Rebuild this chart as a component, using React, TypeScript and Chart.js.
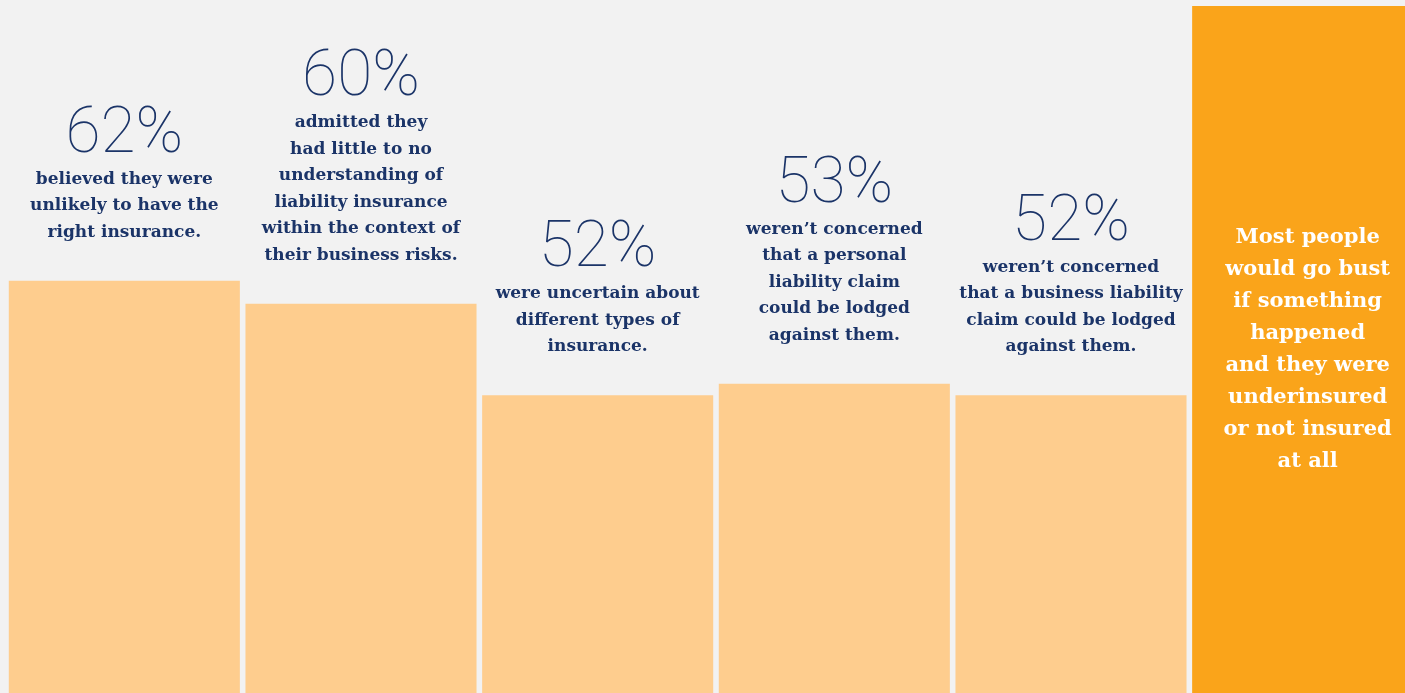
import React, { useEffect, useRef } from "react";
import { Chart, registerables } from "chart.js";

Chart.register(...registerables);

const categories = ["Right insurance", "Liability understanding", "Insurance types", "Personal liability", "Business liability", "Summary"];
const values = [62, 60, 52, 53, 52, 86];
const percentLabels = ["62%", "60%", "52%", "53%", "52%", ""];
const descriptions: string[][] = [
  ["believed they were", "unlikely to have the", "right insurance."],
  ["admitted they", "had little to no", "understanding of", "liability insurance", "within the context of", "their business risks."],
  ["were uncertain about", "different types of", "insurance."],
  ["weren\u2019t concerned", "that a personal", "liability claim", "could be lodged", "against them."],
  ["weren\u2019t concerned", "that a business liability", "claim could be lodged", "against them."],
  ["Most people", "would go bust", "if something", "happened", "and they were", "underinsured", "or not insured", "at all"],
];
const barColors = ["#fecd8e", "#fecd8e", "#fecd8e", "#fecd8e", "#fecd8e", "#faa41a"];

const NAVY = "#1b3468";
const DESC_FONT = "bold 17px 'DejaVu Serif', serif";
const PCT_FONT = "100 64px Roboto, Lato, sans-serif";
const SUMMARY_FONT = "bold 21px 'DejaVu Serif', serif";

const textPlugin = {
  id: "textPlugin",
  afterDatasetsDraw(chart: any) {
    const ctx = chart.ctx as CanvasRenderingContext2D;
    const meta = chart.getDatasetMeta(0);
    const area = chart.chartArea;
    ctx.save();
    ctx.textAlign = "center";
    ctx.textBaseline = "alphabetic";
    meta.data.forEach((bar: any, i: number) => {
      const lines = descriptions[i];
      const x = bar.x;
      if (i === 5) {
        ctx.fillStyle = "#ffffff";
        ctx.font = SUMMARY_FONT;
        const lh = 32;
        const mid = (bar.y + area.bottom) / 2 - 3;
        const first = mid - ((lines.length - 1) * lh) / 2 + 8;
        lines.forEach((l, k) => ctx.fillText(l, x, first + k * lh));
        return;
      }
      const lh = 26.5;
      const lastBase = bar.y - 44;
      const firstBase = lastBase - (lines.length - 1) * lh;
      ctx.fillStyle = NAVY;
      ctx.font = DESC_FONT;
      lines.forEach((l, k) => ctx.fillText(l, x, firstBase + k * lh));
      ctx.font = PCT_FONT;
      ctx.fillText(percentLabels[i], x, firstBase - 32);
    });
    ctx.restore();
  },
};

export default function App() {
  const ref = useRef<HTMLCanvasElement | null>(null);
  useEffect(() => {
    if (!ref.current) return;
    const chart = new Chart(ref.current, {
      type: "bar",
      data: {
        labels: categories,
        datasets: [
          {
            data: values,
            backgroundColor: barColors,
            borderWidth: 0,
            barPercentage: 0.9763,
            categoryPercentage: 1,
          },
        ],
      },
      options: {
        responsive: false,
        animation: false,
        layout: { padding: { left: 6, top: 6, right: 0, bottom: 0 } },
        plugins: { legend: { display: false }, tooltip: { enabled: false }, title: { display: false } },
        scales: {
          x: { display: false, grid: { display: false } },
          y: { display: false, min: 26, max: 86, grid: { display: false } },
        },
      },
      plugins: [textPlugin],
    });
    return () => chart.destroy();
  }, []);
  return (
    <div style={{ position: "fixed", left: 0, top: 0, width: 1405, height: 693, overflow: "hidden", background: "#f2f2f2" }}>
      <canvas ref={ref} width={1426} height={693} style={{ display: "block" }} />
    </div>
  );
}
